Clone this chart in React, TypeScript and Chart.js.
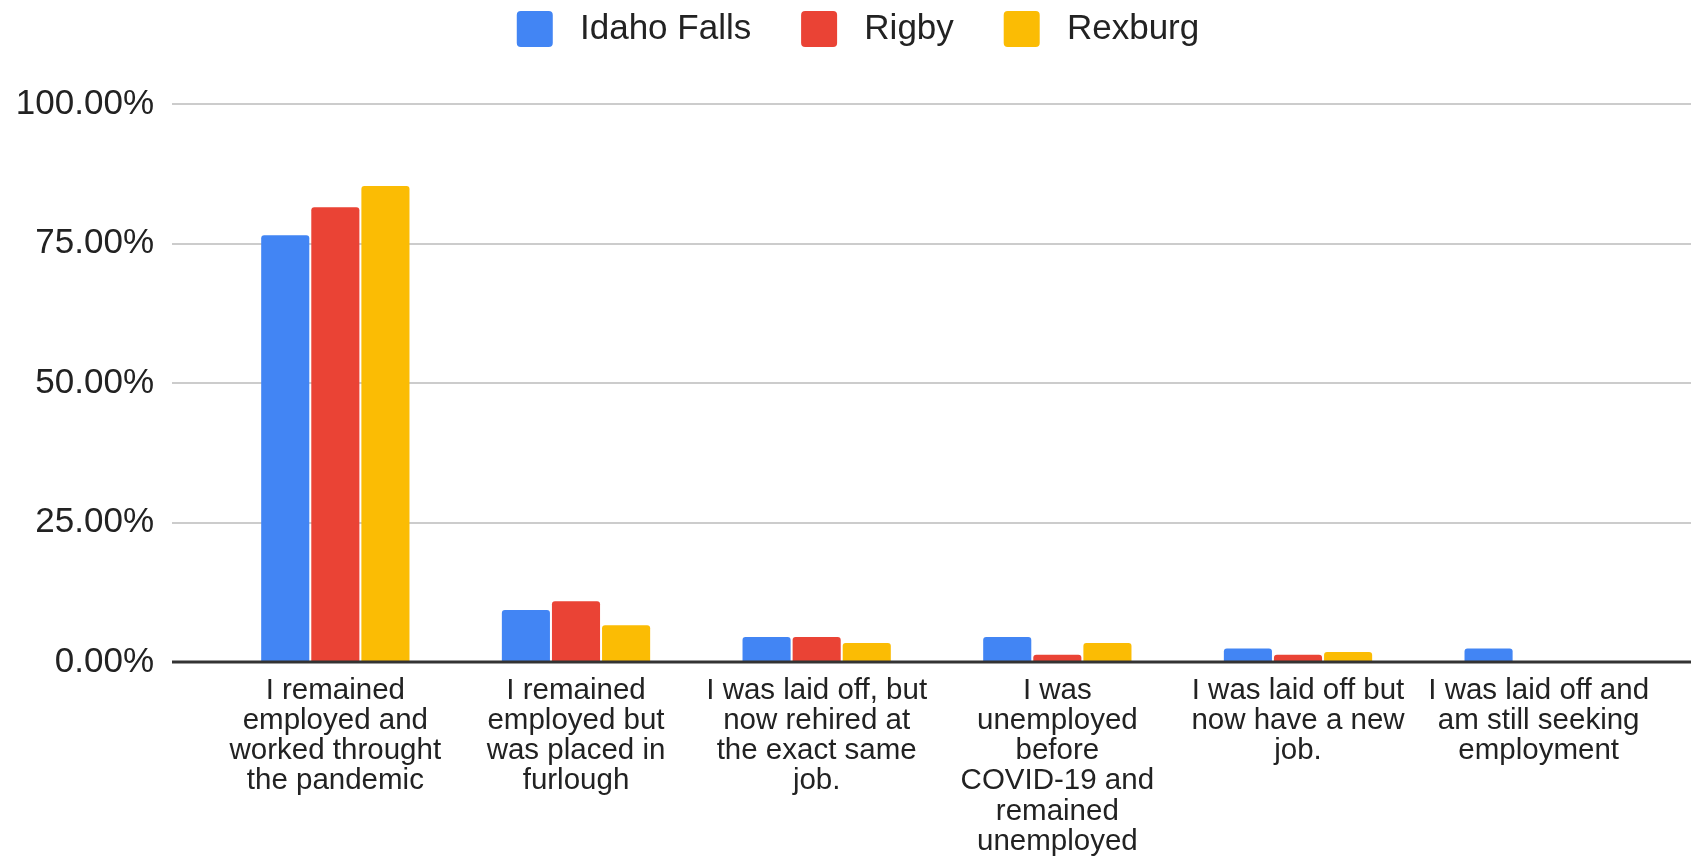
import React, { useEffect, useRef } from "react";
import { Chart, registerables } from "chart.js";

Chart.register(...registerables);

const categories: string[][] = [
  ["I remained", "employed and", "worked throught", "the pandemic"],
  ["I remained", "employed but", "was placed in", "furlough"],
  ["I was laid off, but", "now rehired at", "the exact same", "job."],
  ["I was", "unemployed", "before", "COVID-19 and", "remained", "unemployed"],
  ["I was laid off but", "now have a new", "job."],
  ["I was laid off and", "am still seeking", "employment"],
];

const seriesNames = ["Idaho Falls", "Rigby", "Rexburg"];
const idahoFalls = [76.5, 9.3, 4.5, 4.5, 2.4, 2.4];
const rigby = [81.5, 10.9, 4.5, 1.3, 1.3, 0];
const rexburg = [85.3, 6.6, 3.4, 3.4, 1.8, 0];
const seriesColors = ["#4285F4", "#EA4335", "#FBBC04"];

const yTickValues = [0, 25, 50, 75, 100];

const FONT = "'Liberation Sans', Arial, sans-serif";

const fullGridPlugin = {
  id: "fullGrid",
  afterLayout(chart: any) {
    // let the y tick labels use the space left of the axis box (avoid clipping)
    chart.scales.y.left = 0;
  },
  beforeDatasetsDraw(chart: any) {
    const ys = chart.scales.y;
    const ctx = chart.ctx;
    const left = chart.chartArea.left - 43;
    ctx.save();
    ctx.strokeStyle = "#cccccc";
    ctx.lineWidth = 2;
    yTickValues.forEach((v) => {
      if (v === 0) return;
      const py = Math.round(ys.getPixelForValue(v));
      ctx.beginPath();
      ctx.moveTo(left, py);
      ctx.lineTo(chart.width, py);
      ctx.stroke();
    });
    ctx.restore();
  },
  afterDatasetsDraw(chart: any) {
    const ys = chart.scales.y;
    const ctx = chart.ctx;
    const left = chart.chartArea.left - 43;
    const py = Math.round(ys.getPixelForValue(0));
    ctx.save();
    ctx.strokeStyle = "#333333";
    ctx.lineWidth = 3;
    ctx.beginPath();
    ctx.moveTo(left, py);
    ctx.lineTo(chart.width, py);
    ctx.stroke();
    ctx.restore();
  },
};

export default function App() {
  const ref = useRef<HTMLCanvasElement | null>(null);

  useEffect(() => {
    if (!ref.current) return;
    const values = [idahoFalls, rigby, rexburg];
    const chart = new Chart(ref.current, {
      type: "bar",
      data: {
        labels: categories,
        datasets: seriesNames.map((name, i) => ({
          label: name,
          data: values[i],
          backgroundColor: seriesColors[i],
          borderWidth: 0,
          borderRadius: { topLeft: 3, topRight: 3, bottomLeft: 0, bottomRight: 0 },
          borderSkipped: "start",
          categoryPercentage: 0.6245,
          barPercentage: 0.96,
        })),
      },
      options: {
        animation: false,
        responsive: false,
        devicePixelRatio: 1,
        layout: { padding: { left: 57, right: 32, top: 0, bottom: 0 } },
        plugins: {
          tooltip: { enabled: false },
          title: {
            display: true,
            text: "",
            weight: 500,
            padding: { top: 37, bottom: 0 },
            font: { size: 10, lineHeight: 1 },
          } as any,
          legend: {
            position: "top",
            align: "center",
            labels: {
              boxWidth: 36,
              boxHeight: 36,
              padding: 11,
              useBorderRadius: true,
              borderRadius: 4,
              color: "#222222",
              font: { family: FONT, size: 35 },
              generateLabels: (c: any) => {
                const items = Chart.defaults.plugins.legend.labels.generateLabels(c);
                return items.map((it: any, i: number) => ({
                  ...it,
                  lineWidth: 0,
                  text: " " + it.text + (i < items.length - 1 ? "    " : ""),
                }));
              },
            },
          },
        },
        scales: {
          x: {
            grid: { display: false, drawTicks: false },
            border: { display: false },
            afterFit: (s: any) => {
              s.height = 195;
            },
            ticks: {
              color: "#222222",
              font: { family: FONT, size: 29.5, lineHeight: 1.02 },
              maxRotation: 0,
              minRotation: 0,
              autoSkip: false,
              padding: 14,
            },
          },
          y: {
            min: 0,
            max: 100,
            grid: { display: false, drawTicks: false },
            border: { display: false },
            afterFit: (s: any) => {
              s.width = 158;
            },
            afterBuildTicks: (s: any) => {
              s.ticks = yTickValues.map((v) => ({ value: v }));
            },
            ticks: {
              color: "#222222",
              font: { family: FONT, size: 35 },
              padding: 61,
              callback: (v: any) => Number(v).toFixed(2) + "%",
            },
          },
        },
      },
      plugins: [fullGridPlugin],
    } as any);
    return () => chart.destroy();
  }, []);

  return (
    <canvas
      ref={ref}
      width={1691}
      height={857}
      style={{ position: "absolute", left: 0, top: 0, width: 1691, height: 857 }}
    />
  );
}
